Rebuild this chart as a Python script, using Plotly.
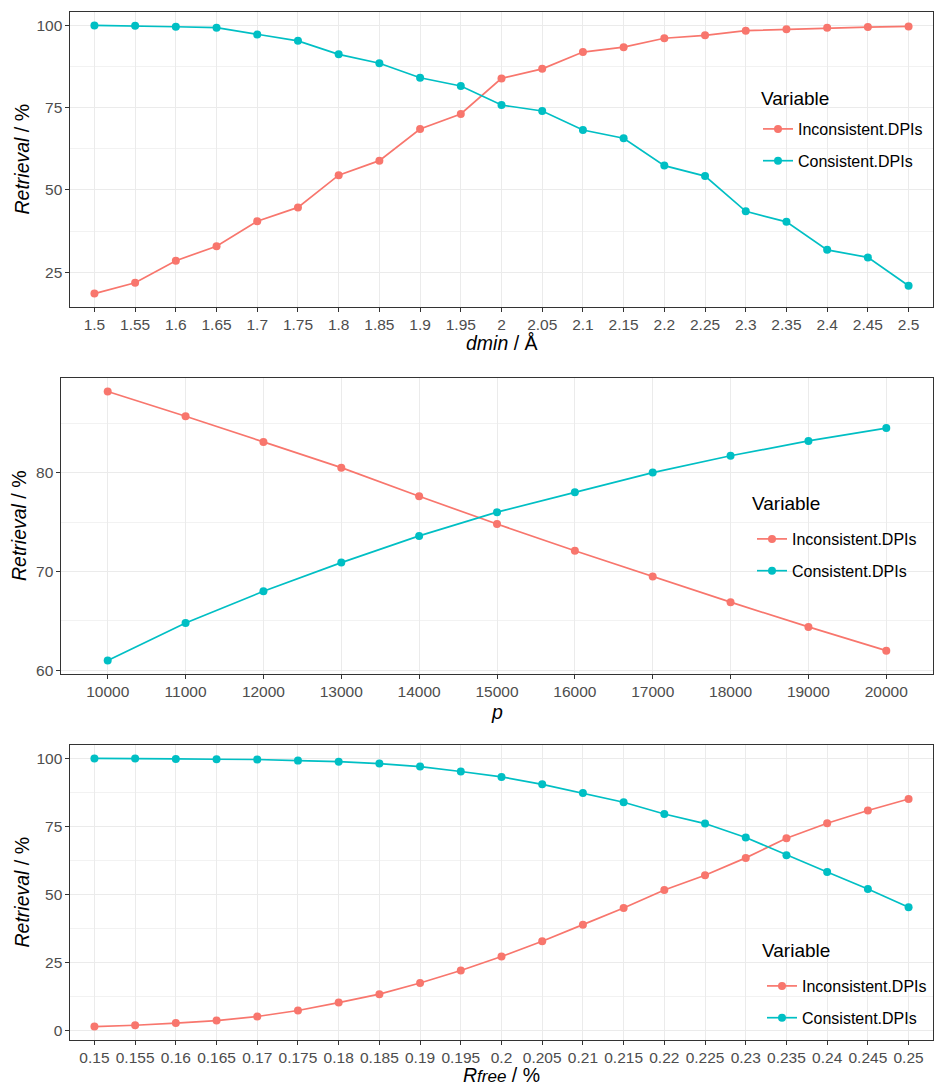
import plotly.graph_objects as go

# ---------------- data ----------------
dmin_labels = ["1.5", "1.55", "1.6", "1.65", "1.7", "1.75", "1.8", "1.85", "1.9", "1.95", "2",
               "2.05", "2.1", "2.15", "2.2", "2.25", "2.3", "2.35", "2.4", "2.45", "2.5"]
dmin_inconsistent = [18.5, 21.8, 28.5, 32.9, 40.5, 44.7, 54.5, 58.9, 68.5, 73.1, 83.9,
                     86.8, 91.9, 93.4, 96.1, 97.0, 98.4, 98.8, 99.3, 99.5, 99.7]
dmin_consistent = [100.0, 99.9, 99.6, 99.3, 97.2, 95.3, 91.2, 88.5, 84.1, 81.6, 75.8,
                   74.0, 68.2, 65.7, 57.4, 54.2, 43.5, 40.3, 31.8, 29.5, 20.9]

p_labels = ["10000", "11000", "12000", "13000", "14000", "15000", "16000", "17000",
            "18000", "19000", "20000"]
p_inconsistent = [88.2, 85.7, 83.1, 80.5, 77.6, 74.8, 72.1, 69.5, 66.9, 64.4, 62.0]
p_consistent = [61.0, 64.8, 68.0, 70.9, 73.6, 76.0, 78.0, 80.0, 81.7, 83.2, 84.5]

rfree_labels = ["0.15", "0.155", "0.16", "0.165", "0.17", "0.175", "0.18", "0.185", "0.19",
                "0.195", "0.2", "0.205", "0.21", "0.215", "0.22", "0.225", "0.23", "0.235",
                "0.24", "0.245", "0.25"]
rfree_inconsistent = [1.6, 2.1, 2.9, 3.8, 5.3, 7.5, 10.4, 13.5, 17.6, 22.2, 27.3, 32.9,
                      39.0, 45.1, 51.7, 57.1, 63.5, 70.7, 76.2, 80.9, 85.1]
rfree_consistent = [100.0, 100.0, 99.8, 99.7, 99.6, 99.2, 98.8, 98.1, 97.0, 95.2, 93.2,
                    90.5, 87.3, 83.9, 79.6, 76.1, 71.0, 64.5, 58.3, 52.1, 45.4]

series_names = ["Inconsistent.DPIs", "Consistent.DPIs"]
series_colors = ["#F8766D", "#00BFC4"]
legend_title = "Variable"

top_yticks = [25, 50, 75, 100]
mid_yticks = [60, 70, 80]
bot_yticks = [0, 25, 50, 75, 100]

# ---------------- layout helpers ----------------
W, H = 935, 1088
FONT = "Liberation Sans, Arial, sans-serif"

def px_x(v):
    return v / W

def px_y(v):
    return 1 - v / H

panels = [
    dict(labels=dmin_labels, ys=[dmin_inconsistent, dmin_consistent], yticks=top_yticks,
         minor=12.5, xl=70, xr=933, yt=12, yb=307,
         xtitle="<i>dmin</i> / Å", xtitle_y=343, ytitle_x=21,
         leg_x=758, leg_title=(760, 98), leg_item1=129),
    dict(labels=p_labels, ys=[p_inconsistent, p_consistent], yticks=mid_yticks,
         minor=5, xl=61, xr=933, yt=378, yb=674,
         xtitle="<i>p</i>", xtitle_y=712, ytitle_x=19,
         leg_x=752, leg_title=(751, 503), leg_item1=539),
    dict(labels=rfree_labels, ys=[rfree_inconsistent, rfree_consistent], yticks=bot_yticks,
         minor=12.5, xl=70, xr=933, yt=745, yb=1040,
         xtitle="<i>R<span style='font-size:17px'>free</span></i> / %", xtitle_y=1075,
         ytitle_x=21,
         leg_x=762, leg_title=(761, 950), leg_item1=986),
]

fig = go.Figure()
annotations = []
shapes = []
legend_keys = ["legend", "legend2", "legend3"]
layout_upd = {}

for i, pan in enumerate(panels):
    k = "" if i == 0 else str(i + 1)
    xa, ya = "x" + k, "y" + k
    for j in range(2):
        fig.add_trace(go.Scatter(
            x=pan["labels"], y=pan["ys"][j], name=series_names[j],
            mode="lines+markers", xaxis=xa, yaxis=ya,
            line=dict(color=series_colors[j], width=1.7),
            marker=dict(color=series_colors[j], size=8),
            legend=legend_keys[i], legendgroup=f"g{i}{j}",
        ))
    allv = pan["ys"][0] + pan["ys"][1]
    lo, hi = min(allv), max(allv)
    pad = (hi - lo) * 0.05
    n = len(pan["labels"])
    layout_upd["xaxis" + k] = dict(
        type="category", domain=[px_x(pan["xl"]), px_x(pan["xr"])],
        anchor=ya, range=[-0.6, n - 1 + 0.6],
        showgrid=True, gridcolor="#EBEBEB", gridwidth=1.1,
        showline=True, mirror=True, linecolor="#333333", linewidth=1.1,
        ticks="outside", ticklen=3.5, tickcolor="#333333", tickwidth=1.1,
        tickfont=dict(family=FONT, size=15.5, color="#4D4D4D"),
        zeroline=False, automargin=False,
    )
    layout_upd["yaxis" + k] = dict(
        domain=[px_y(pan["yb"]), px_y(pan["yt"])], anchor=xa,
        range=[lo - pad, hi + pad], tickvals=pan["yticks"],
        showgrid=True, gridcolor="#EBEBEB", gridwidth=1.1,
        minor=dict(showgrid=True, gridcolor="#F2F2F2", gridwidth=0.6, dtick=pan["minor"],
                   tick0=0),
        showline=True, mirror=True, linecolor="#333333", linewidth=1.1,
        ticks="outside", ticklen=3.5, tickcolor="#333333", tickwidth=1.1,
        tickfont=dict(family=FONT, size=15.5, color="#4D4D4D"),
        zeroline=False, automargin=False,
    )
    annotations.append(dict(
        text=pan["xtitle"], xref="paper", yref="paper",
        x=px_x((pan["xl"] + pan["xr"]) / 2), y=px_y(pan["xtitle_y"]),
        xanchor="center", yanchor="middle", showarrow=False,
        font=dict(family=FONT, size=19.5, color="black"), borderpad=0,
    ))
    annotations.append(dict(
        text="<i>Retrieval</i> / %", xref="paper", yref="paper",
        x=px_x(pan["ytitle_x"]), y=px_y((pan["yt"] + pan["yb"]) / 2),
        xanchor="center", yanchor="middle", textangle=-90, showarrow=False,
        font=dict(family=FONT, size=19.5, color="black"),
    ))
    # legend title
    tx, ty = pan["leg_title"]
    annotations.append(dict(
        text=legend_title, xref="paper", yref="paper",
        x=px_x(tx), y=px_y(ty), xanchor="left", yanchor="middle", showarrow=False,
        font=dict(family=FONT, size=19, color="black"), borderpad=0,
    ))
    # white legend background (covers grid lines only)
    shapes.append(dict(
        type="rect", xref="paper", yref="paper", layer="between",
        x0=px_x(tx - 8), x1=px_x(min(tx + 178, 932)),
        y0=px_y(ty - 15), y1=px_y(pan["leg_item1"] + 32 + 16),
        fillcolor="white", line=dict(width=0),
    ))
    layout_upd[legend_keys[i]] = dict(
        x=px_x(pan["leg_x"]), y=px_y(pan["leg_item1"] - 17),
        xanchor="left", yanchor="top", bgcolor="rgba(0,0,0,0)",
        font=dict(family=FONT, size=16, color="black"),
        tracegroupgap=8, itemwidth=30,
    )

fig.update_layout(
    width=W, height=H, margin=dict(l=0, r=0, t=0, b=0),
    paper_bgcolor="white", plot_bgcolor="white",
    annotations=annotations, shapes=shapes, **layout_upd,
)

fig.write_html(
    "out.html",
    config={"displayModeBar": False},
    post_script="document.body.style.margin='0px';document.body.style.overflow='hidden';",
)
